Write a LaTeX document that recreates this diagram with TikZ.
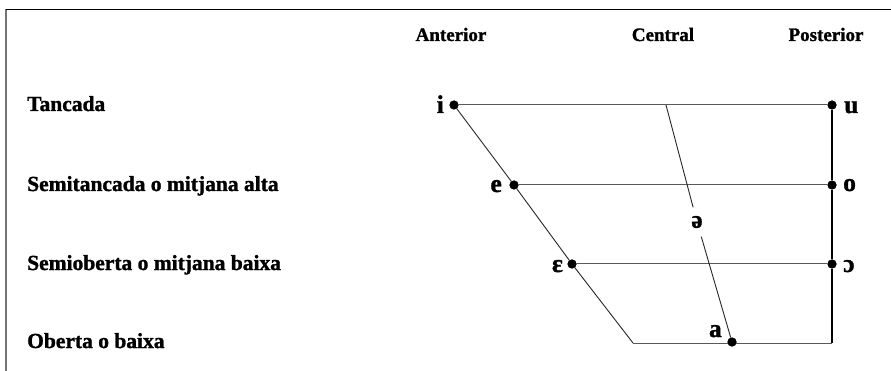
\documentclass[tikz,border=0pt]{standalone}
\usepackage{fontspec}
\setmainfont{Liberation Serif}[BoldFeatures={FakeBold=1.3}]
\begin{document}
\begin{tikzpicture}[x=1pt,y=-1pt,
  dot/.style={circle,fill=black,minimum size=9pt,inner sep=0pt},
  vow/.style={font=\fontsize{25.5}{28}\selectfont\bfseries,inner sep=0pt},
  rowlab/.style={font=\fontsize{21.5}{24}\selectfont\bfseries,inner sep=0pt,anchor=base west},
  head/.style={font=\fontsize{19}{22}\selectfont\bfseries,inner sep=0pt,anchor=base},
  hline/.style={draw=black!65,line width=1pt},
  sline/.style={draw=black!85,line width=0.9pt},
  vline/.style={draw=black,line width=1.2pt}]
\useasboundingbox (0,0) rectangle (891,371);
% frame
\coordinate (fbl) at (6,371);
\coordinate (ftl) at (6,9.5);
\coordinate (ftr) at (891,9.5);
\draw[black!55,line width=2pt] (fbl) -- (ftl);
\draw[black,line width=1.5pt] (ftl) -- (ftr);
% headers
\node[head] (hant) at (451,41) {Anterior};
\node[head] (hcen) at (663,41) {Central};
\node[head] (hpos) at (826,41) {Posterior};
% row labels
\node[rowlab] (r1) at (27,111) {Tancada};
\node[rowlab] (r2) at (27,191) {Semitancada o mitjana alta};
\node[rowlab] (r3) at (27,270) {Semioberta o mitjana baixa};
\node[rowlab] (r4) at (27,348) {Oberta o baixa};
% points
\node[dot] (i) at (454,105) {};
\node[dot] (e) at (514,185) {};
\node[dot] (E) at (572,264) {};
\node[dot] (a) at (732,342) {};
\node[dot] (u) at (832,105) {};
\node[dot] (o) at (832,185) {};
\node[dot] (O) at (832,264) {};
\coordinate (bl) at (633,343);
\coordinate (br) at (832,343);
\coordinate (ct) at (666,105);
\node[font=\fontsize{25}{27}\selectfont\bfseries,inner sep=0pt,minimum height=29pt,minimum width=4pt] (schwa) at (697,222) {ə};
% lines
\draw[hline] (i) -- (u);
\draw[hline] (e) -- (o);
\draw[hline] (E) -- (O);
\draw[hline] (bl) -- (br);
\draw[sline] (i) -- (e) -- (E) -- (bl);
\draw[vline] (u) -- (o) -- (O) -- (br);
\draw[sline] (ct) -- (schwa);
\draw[sline] (schwa) -- (a);
% redraw dots on top
\node[dot] at (i) {};
\node[dot] at (e) {};
\node[dot] at (E) {};
\node[dot] at (a) {};
\node[dot] at (u) {};
\node[dot] at (o) {};
\node[dot] at (O) {};
% vowel labels
\node[vow,anchor=base east] (li) at (444,113) {i};
\node[vow,anchor=base east] (le) at (502,192) {e};
\node[vow,anchor=base east] (lE) at (563,272) {ɛ};
\node[vow,anchor=base east] (la) at (722,337) {a};
\node[vow,anchor=base west] (lu) at (844,113) {u};
\node[vow,anchor=base west] (lo) at (843,191) {o};
\node[vow,anchor=base west] (lO) at (843,272) {ɔ};
\end{tikzpicture}
\end{document}
